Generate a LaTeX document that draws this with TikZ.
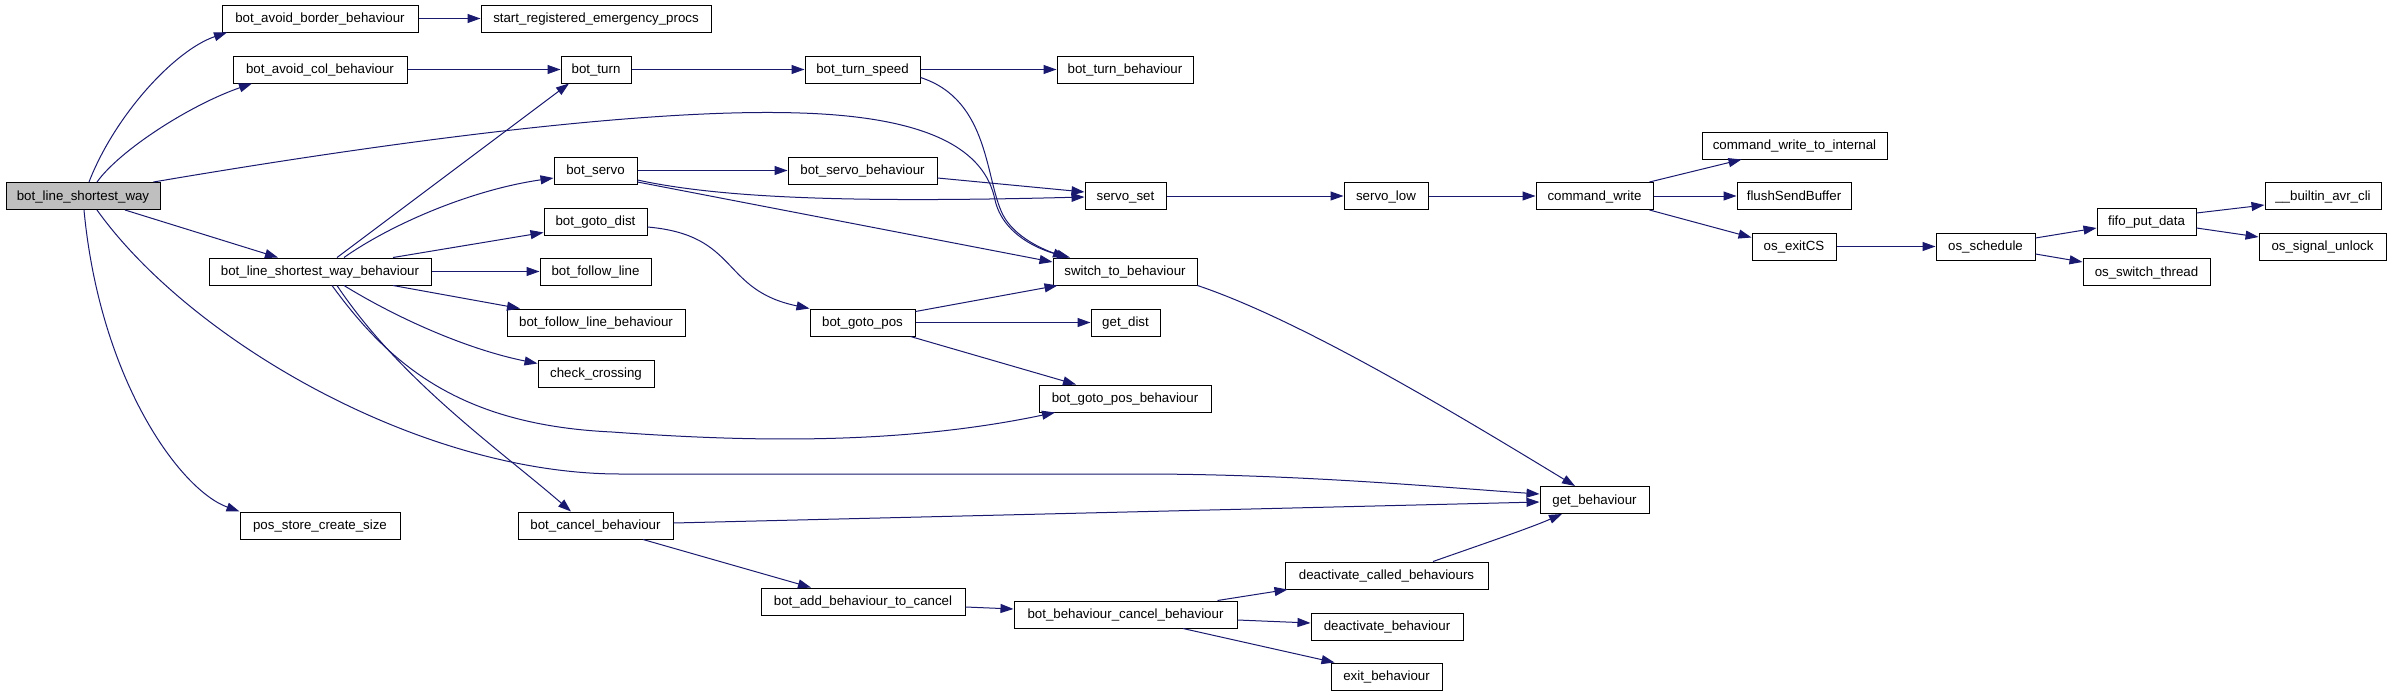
\documentclass[tikz,border=0pt]{standalone}
\usepackage{fontspec}
\setmainfont{Liberation Sans}
\usetikzlibrary{arrows.meta}
\definecolor{edgecol}{HTML}{191970}
\definecolor{rootfill}{HTML}{BFBFBF}
\begin{document}
\begin{tikzpicture}[x=1pt,y=-1pt,
  fn/.style={draw=black, line width=1pt, fill=white, minimum height=27pt, inner sep=0pt,
    font=\fontsize{13.3}{16}\selectfont, text height=10.5pt, text depth=2.5pt},
  e/.style={draw=edgecol, line width=1pt, -{Triangle[length=13pt,width=9pt]}},
]
\useasboundingbox[fill=white] (0,0) rectangle (2392,696);

% nodes
\node[fn, fill=rootfill, minimum width=154pt] (root) at (83,196) {bot\_line\_shortest\_way};
\node[fn, minimum width=196pt] (abb) at (320,18.5) {bot\_avoid\_border\_behaviour};
\node[fn, minimum width=230pt] (srep) at (596,18.5) {start\_registered\_emergency\_procs};
\node[fn, minimum width=174pt] (acb) at (320,69.5) {bot\_avoid\_col\_behaviour};
\node[fn, minimum width=70pt] (turn) at (596,69.5) {bot\_turn};
\node[fn, minimum width=115pt] (tspeed) at (862.5,69.5) {bot\_turn\_speed};
\node[fn, minimum width=136pt] (tbeh) at (1125,69.5) {bot\_turn\_behaviour};
\node[fn, minimum width=83pt] (servo) at (595.5,170.5) {bot\_servo};
\node[fn, minimum width=149pt] (sbeh) at (862.5,170.5) {bot\_servo\_behaviour};
\node[fn, minimum width=81pt] (sset) at (1125.5,196) {servo\_set};
\node[fn, minimum width=84pt] (slow) at (1386,196) {servo\_low};
\node[fn, minimum width=117pt] (cw) at (1594.5,196) {command\_write};
\node[fn, minimum width=185pt] (cwti) at (1794.5,145.5) {command\_write\_to\_internal};
\node[fn, minimum width=114pt] (fsb) at (1794,196) {flushSendBuffer};
\node[fn, minimum width=84pt] (exitcs) at (1794,246.5) {os\_exitCS};
\node[fn, minimum width=99pt] (osched) at (1985.5,246.5) {os\_schedule};
\node[fn, minimum width=99pt] (fifo) at (2146.5,221.5) {fifo\_put\_data};
\node[fn, minimum width=116pt] (cli) at (2323,196) {\_\_builtin\_avr\_cli};
\node[fn, minimum width=127pt] (unlock) at (2322.5,246.5) {os\_signal\_unlock};
\node[fn, minimum width=127pt] (switchth) at (2146.5,272) {os\_switch\_thread};
\node[fn, minimum width=103pt] (gdist) at (595.5,221.5) {bot\_goto\_dist};
\node[fn, minimum width=222pt] (lswb) at (320,271.5) {bot\_line\_shortest\_way\_behaviour};
\node[fn, minimum width=111pt] (fline) at (595.5,271.5) {bot\_follow\_line};
\node[fn, minimum width=144pt] (switch) at (1125,271.5) {switch\_to\_behaviour};
\node[fn, minimum width=178pt] (flb) at (596,322.5) {bot\_follow\_line\_behaviour};
\node[fn, minimum width=105pt] (gpos) at (862.5,322.5) {bot\_goto\_pos};
\node[fn, minimum width=69pt] (getdist) at (1125.5,322.5) {get\_dist};
\node[fn, minimum width=116pt] (cross) at (596,373.5) {check\_crossing};
\node[fn, minimum width=172pt] (gpb) at (1125,398.5) {bot\_goto\_pos\_behaviour};
\node[fn, minimum width=109pt] (getb) at (1594.5,500) {get\_behaviour};
\node[fn, minimum width=160pt] (psc) at (320,525.5) {pos\_store\_create\_size};
\node[fn, minimum width=155pt] (cancel) at (595.5,525.5) {bot\_cancel\_behaviour};
\node[fn, minimum width=204pt] (addc) at (863,601.5) {bot\_add\_behaviour\_to\_cancel};
\node[fn, minimum width=223pt] (bcb) at (1125.5,614.5) {bot\_behaviour\_cancel\_behaviour};
\node[fn, minimum width=203pt] (dcb) at (1386.5,575.5) {deactivate\_called\_behaviours};
\node[fn, minimum width=152pt] (deact) at (1387,626.5) {deactivate\_behaviour};
\node[fn, minimum width=111pt] (exitb) at (1386.5,676.5) {exit\_behaviour};

% edges from root
\draw[e] ([xshift=6pt]root.north) .. controls (115,115) and (175,50) .. ([xshift=-93pt]abb.south);
\draw[e] ([xshift=14pt]root.north) .. controls (120,150) and (190,105) .. ([xshift=-68pt]acb.south);
\draw[e] ([xshift=-7pt]root.north east) .. controls (400,140) and (650,108) .. (800,113)
   .. controls (930,117) and (985,150) .. (995,200) .. controls (1003,235) and (1040,250) .. ([xshift=-55pt]switch.north);
\draw[e] ([xshift=42pt]root.south) -- ([xshift=-42pt]lswb.north);
\draw[e] ([xshift=1pt]root.south) .. controls (100,380) and (180,490) .. (psc.north west);
\draw[e] ([xshift=14pt]root.south) .. controls (190,340) and (420,474) .. (620,474) -- (1140,474)
   .. controls (1300,474) and (1450,488) .. ([yshift=6pt]getb.west);

% top rows
\draw[e] (abb.east) -- (srep.west);
\draw[e] (acb.east) -- (turn.west);
\draw[e] (turn.east) -- (tspeed.west);
\draw[e] (tspeed.east) -- (tbeh.west);
\draw[e] ([yshift=-8pt]tspeed.east) .. controls (990,100) and (985,180) .. (1003,215)
   .. controls (1015,238) and (1045,250) .. ([xshift=-59pt]switch.north);

% from bot_line_shortest_way_behaviour
\draw[e] ([xshift=17pt]lswb.north) -- ([xshift=-27pt]turn.south);
\draw[e] ([xshift=24pt]lswb.north) .. controls (390,225) and (470,190) .. ([yshift=-7.5pt]servo.west);
\draw[e] ([xshift=73pt]lswb.north) -- ([yshift=-11pt]gdist.west);
\draw[e] (lswb.east) -- (fline.west);
\draw[e] ([xshift=73pt]lswb.south) -- ([xshift=-76pt]flb.north);
\draw[e] ([xshift=24pt]lswb.south) .. controls (400,320) and (470,350) .. ([yshift=10pt]cross.west);
\draw[e] ([xshift=12pt]lswb.south) .. controls (390,365) and (460,425) .. (612,432)
   .. controls (750,442) and (900,445) .. ([xshift=-70pt]gpb.south);
\draw[e] ([xshift=17pt]lswb.south) .. controls (400,380) and (500,450) .. ([xshift=-24.5pt]cancel.north);

% servo chain
\draw[e] (servo.east) -- (sbeh.west);
\draw[e] ([yshift=-9.5pt]servo.east) .. controls (720,198) and (850,203) .. ([yshift=-1pt]sset.west);
\draw[e] ([yshift=-11.5pt]servo.east) -- ([yshift=9.5pt]switch.west);
\draw[e] ([yshift=-7.5pt]sbeh.east) -- ([yshift=4pt]sset.west);
\draw[e] (sset.east) -- (slow.west);
\draw[e] (slow.east) -- (cw.west);
\draw[e] ([xshift=-4pt]cw.north east) -- ([xshift=-53pt]cwti.south);
\draw[e] (cw.east) -- (fsb.west);
\draw[e] ([xshift=-4pt]cw.south east) -- ([yshift=9pt]exitcs.west);
\draw[e] (exitcs.east) -- (osched.west);
\draw[e] ([yshift=8.5pt]osched.east) -- ([yshift=-6.5pt]fifo.west);
\draw[e] ([yshift=-7.5pt]osched.east) -- ([yshift=10pt]switchth.west);
\draw[e] ([yshift=8.5pt]fifo.east) -- ([yshift=-9pt]cli.west);
\draw[e] ([yshift=-6.5pt]fifo.east) -- ([yshift=9.5pt]unlock.west);

% goto chain
\draw[e] ([yshift=-5.5pt]gdist.east) .. controls (740,235) and (720,290) .. (gpos.north west);
\draw[e] ([yshift=-3pt]gpos.north east) -- ([xshift=5pt]switch.south west);
\draw[e] (gpos.east) -- (getdist.west);
\draw[e] ([xshift=-5pt]gpos.south east) -- ([xshift=-49pt]gpb.north);
\draw[e] (switch.south east) .. controls (1300,320) and (1450,410) .. ([xshift=-19.5pt]getb.north);

% cancel chain
\draw[e] ([yshift=2.5pt]cancel.east) -- ([yshift=-2pt]getb.west);
\draw[e] ([xshift=47.5pt]cancel.south) -- ([xshift=-52pt]addc.north);
\draw[e] ([yshift=-5.5pt]addc.east) -- ([yshift=5.5pt]bcb.west);
\draw[e] ([xshift=-20pt]bcb.north east) -- ([xshift=3pt]dcb.south west);
\draw[e] ([yshift=-5.5pt]bcb.east) -- ([yshift=3.5pt]deact.west);
\draw[e] ([xshift=57.5pt]bcb.south) -- ([xshift=4pt]exitb.north west);
\draw[e] ([xshift=46.5pt]dcb.north) .. controls (1480,545) and (1530,528) .. ([xshift=-32.5pt]getb.south);
\end{tikzpicture}
\end{document}
